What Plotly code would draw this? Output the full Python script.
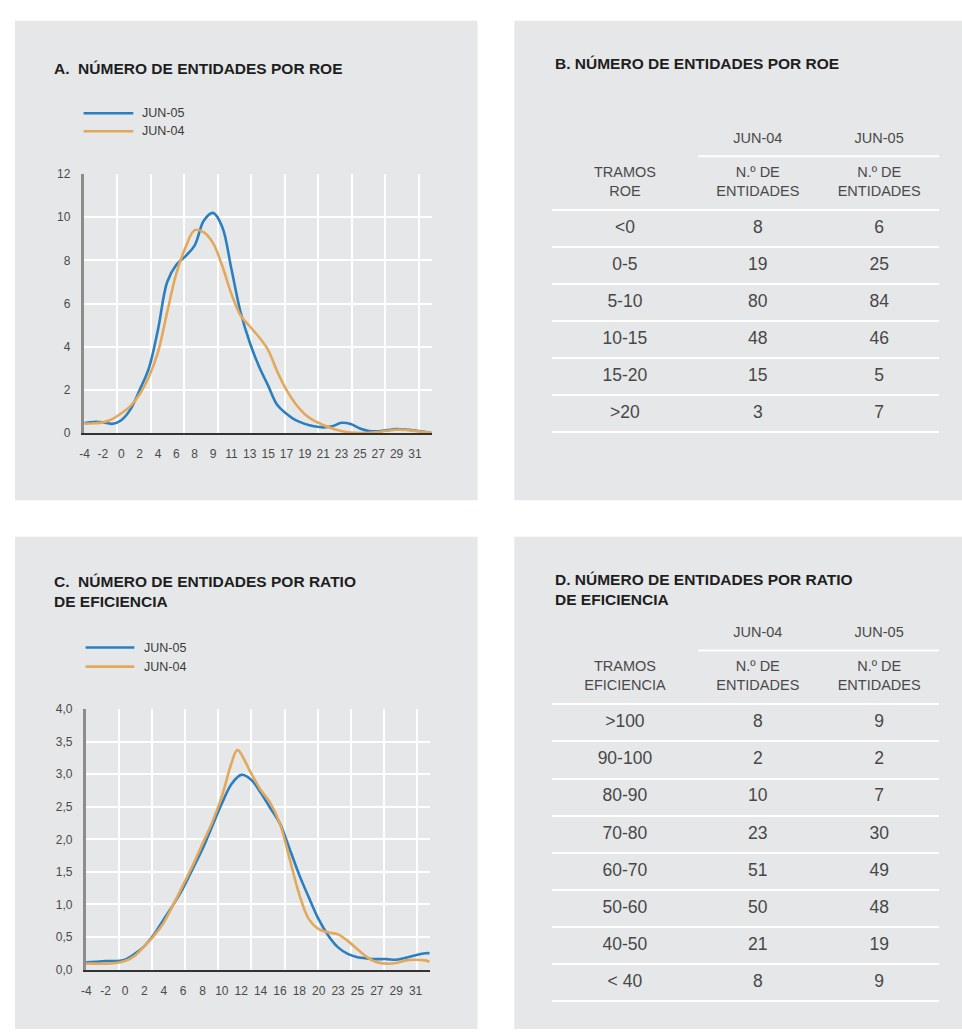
import plotly.graph_objects as go

W, H = 962, 1036


def px(x):
    return x / W


def py(y):
    return 1 - y / H


# ---------------- DATA ----------------
SERIES = ["JUN-05", "JUN-04"]
COLORS = {"JUN-05": "#2a7fc1", "JUN-04": "#e2a85c"}

# Chart A: number of entities by ROE (density-like curves)
ROE_TICKS = ["-4", "-2", "0", "2", "4", "6", "8", "9", "11", "13", "15",
             "17", "19", "21", "23", "25", "27", "29", "31"]
ROE_X = [0, 0.5, 1, 1.5, 2, 2.5, 3, 3.5, 4, 4.5, 5, 5.5, 6, 6.5, 7, 7.5, 8,
         8.5, 9, 9.5, 10, 10.5, 11, 11.5, 12, 12.5, 13, 13.5, 14, 14.5, 15,
         15.5, 16, 16.5, 17, 17.5, 18, 18.5, 18.9]
ROE_JUN05 = [0.47, 0.52, 0.50, 0.43, 0.60, 1.10, 2.00, 3.00, 4.80, 7.00,
             7.80, 8.20, 8.70, 9.85, 10.20, 9.55, 7.60, 5.60, 4.20, 3.10,
             2.20, 1.30, 0.90, 0.60, 0.43, 0.32, 0.27, 0.32, 0.48, 0.42,
             0.22, 0.10, 0.09, 0.14, 0.19, 0.17, 0.12, 0.06, 0.01]
ROE_JUN04 = [0.44, 0.46, 0.50, 0.65, 0.92, 1.25, 1.80, 2.60, 3.75, 5.60,
             7.40, 8.60, 9.40, 9.30, 8.80, 7.75, 6.45, 5.45, 4.95, 4.45,
             3.85, 2.85, 2.00, 1.35, 0.88, 0.58, 0.38, 0.22, 0.10, 0.03,
             0.01, 0.02, 0.05, 0.11, 0.16, 0.15, 0.10, 0.05, 0.02]
ROE_Y_TICKS = [0, 2, 4, 6, 8, 10, 12]

# Chart C: number of entities by efficiency ratio
EF_TICKS = ["-4", "-2", "0", "2", "4", "6", "8", "10", "12", "14", "16",
            "18", "20", "23", "25", "27", "29", "31"]
EF_X_JUN05 = [0, 0.5, 1, 1.5, 2, 2.5, 3, 3.5, 4, 4.5, 5, 5.5, 6, 6.5, 7,
              7.5, 8, 8.5, 9, 9.5, 10, 10.5, 11, 11.5, 12, 12.5, 13, 13.5,
              14, 14.5, 15, 15.5, 16, 16.5, 17, 17.5, 17.73]
EF_JUN05 = [0.11, 0.12, 0.13, 0.13, 0.15, 0.24, 0.36, 0.54, 0.77, 1.00,
            1.25, 1.55, 1.85, 2.20, 2.55, 2.85, 2.99, 2.92, 2.72, 2.48,
            2.24, 1.85, 1.45, 1.10, 0.77, 0.52, 0.34, 0.24, 0.19, 0.17,
            0.16, 0.16, 0.15, 0.18, 0.22, 0.25, 0.25]
EF_X_JUN04 = [0, 0.5, 1, 1.5, 2, 2.5, 3, 3.5, 4, 4.5, 5, 5.5, 6, 6.5, 7,
              7.5, 7.8, 8.5, 9, 9.5, 10, 10.5, 11, 11.5, 12, 12.5, 13, 13.5,
              14, 14.5, 15, 15.5, 16, 16.5, 17, 17.5, 17.73]
EF_JUN04 = [0.09, 0.09, 0.09, 0.10, 0.13, 0.21, 0.36, 0.52, 0.72, 1.00,
            1.30, 1.60, 1.93, 2.26, 2.66, 3.17, 3.37, 3.02, 2.76, 2.56,
            2.24, 1.70, 1.15, 0.77, 0.62, 0.57, 0.54, 0.44, 0.31, 0.19,
            0.11, 0.09, 0.10, 0.14, 0.15, 0.14, 0.12]
EF_Y_TICKS = [0, 0.5, 1, 1.5, 2, 2.5, 3, 3.5, 4]

# Table B
ROE_TRAMOS = ["<0", "0-5", "5-10", "10-15", "15-20", ">20"]
ROE_N_JUN04 = [8, 19, 80, 48, 15, 3]
ROE_N_JUN05 = [6, 25, 84, 46, 5, 7]

# Table D
EF_TRAMOS = [">100", "90-100", "80-90", "70-80", "60-70", "50-60", "40-50", "< 40"]
EF_N_JUN04 = [8, 2, 10, 23, 51, 50, 21, 8]
EF_N_JUN05 = [9, 2, 7, 30, 49, 48, 19, 9]

TABLE_COLS = ["JUN-04", "JUN-05"]

# ---------------- STYLE ----------------
FONT = "Liberation Sans, Arial, Helvetica, sans-serif"
PANEL = "#e6e7e9"
TXT = "#474747"
TITLE = "#1e1e1e"

fig = go.Figure()


def esc(s):
    return s.replace("<", "&lt;").replace(">", "&gt;")


# ---- line charts ----
for name, ys in (("JUN-05", ROE_JUN05), ("JUN-04", ROE_JUN04)):
    fig.add_trace(go.Scatter(x=ROE_X, y=ys, mode="lines", name=name,
                             line=dict(color=COLORS[name], width=2.6, shape="spline", smoothing=1),
                             xaxis="x", yaxis="y", showlegend=False, hoverinfo="skip"))
fig.add_trace(go.Scatter(x=[], y=[], xaxis="x2", yaxis="y", showlegend=False, hoverinfo="skip"))

for name, xs, ys in (("JUN-05", EF_X_JUN05, EF_JUN05), ("JUN-04", EF_X_JUN04, EF_JUN04)):
    fig.add_trace(go.Scatter(x=xs, y=ys, mode="lines", name=name,
                             line=dict(color=COLORS[name], width=2.6, shape="spline", smoothing=1),
                             xaxis="x3", yaxis="y2", showlegend=False, hoverinfo="skip"))
fig.add_trace(go.Scatter(x=[], y=[], xaxis="x4", yaxis="y2", showlegend=False, hoverinfo="skip"))

# ---- tables ----
COLX = [0.188, 0.5315, 0.845]
HDR_Y, SUB_Y, HLINE_Y = -2.4, -1.23, -1.95


def add_table(tramos, v04, v05, sublabel, xa, ya):
    n = len(tramos)
    rows = list(range(n))
    tf_hdr = dict(family=FONT, size=14.5, color="#4a4a4a")
    tf_val = dict(family=FONT, size=17.5, color=TXT)
    fig.add_trace(go.Scatter(x=COLX[1:], y=[HDR_Y] * 2, text=TABLE_COLS, mode="text",
                             textposition="middle center", textfont=tf_hdr,
                             xaxis=xa, yaxis=ya, showlegend=False, hoverinfo="skip"))
    fig.add_trace(go.Scatter(x=COLX, y=[SUB_Y] * 3,
                             text=["TRAMOS<br>" + sublabel, "N.º DE<br>ENTIDADES", "N.º DE<br>ENTIDADES"],
                             mode="text", textposition="middle center", textfont=tf_hdr,
                             xaxis=xa, yaxis=ya, showlegend=False, hoverinfo="skip"))
    fig.add_trace(go.Scatter(x=[COLX[0]] * n, y=rows, text=[esc(t) for t in tramos], mode="text",
                             textposition="middle center", textfont=tf_val,
                             xaxis=xa, yaxis=ya, showlegend=False, hoverinfo="skip"))
    fig.add_trace(go.Scatter(x=[COLX[1]] * n, y=rows, text=[str(v) for v in v04], mode="text",
                             textposition="middle center", textfont=tf_val,
                             xaxis=xa, yaxis=ya, showlegend=False, hoverinfo="skip"))
    fig.add_trace(go.Scatter(x=[COLX[2]] * n, y=rows, text=[str(v) for v in v05], mode="text",
                             textposition="middle center", textfont=tf_val,
                             xaxis=xa, yaxis=ya, showlegend=False, hoverinfo="skip"))


add_table(ROE_TRAMOS, ROE_N_JUN04, ROE_N_JUN05, "ROE", "x5", "y3")
add_table(EF_TRAMOS, EF_N_JUN04, EF_N_JUN05, "EFICIENCIA", "x6", "y4")

# ---------------- LAYOUT ----------------
tickfont = dict(family=FONT, size=12, color="#4a4a4a")


def data_xaxis(ticks, rng, dom):
    return dict(domain=dom, range=rng, tickmode="array", tickvals=list(range(len(ticks))),
                ticktext=ticks, showgrid=False, zeroline=False, showline=True,
                linecolor="#333333", linewidth=1.5, ticks="outside", ticklen=9,
                tickcolor="rgba(0,0,0,0)", tickfont=tickfont, fixedrange=True)


def grid_xaxis(over, anchor, rng):
    return dict(overlaying=over, anchor=anchor, range=rng, tickmode="linear", tick0=0, dtick=1,
                showgrid=True, gridcolor="white", gridwidth=2, showticklabels=False,
                ticks="", zeroline=False, showline=False, fixedrange=True)


def data_yaxis(dom, rng, vals, fmt):
    return dict(domain=dom, range=rng, tickmode="array", tickvals=vals, tickformat=fmt,
                showgrid=True, gridcolor="white", gridwidth=2, zeroline=False,
                showline=True, linecolor="#8c8c8c", linewidth=2.5, ticks="outside",
                ticklen=8, tickcolor="rgba(0,0,0,0)", tickfont=tickfont, fixedrange=True)


def table_yaxis(dom, n, rng):
    return dict(domain=dom, range=rng, tickmode="array",
                tickvals=[k - 0.5 for k in range(n + 1)], showgrid=True, gridcolor="white",
                gridwidth=2, showticklabels=False, ticks="", zeroline=False, showline=False,
                fixedrange=True)


def table_xaxis(dom, anchor):
    return dict(domain=dom, range=[0, 1], visible=False, anchor=anchor, fixedrange=True)


# Table B rows: first row centre 224.3 px, pitch 37.5 px ; Table D: 725.7 px, 37.6 px
tB_top, tB_bot = 224.3 - 3 * 37.5, 224.3 + 6.2 * 37.5
tD_top, tD_bot = 725.7 - 3 * 37.6, 725.7 + 8.2 * 37.6

layout = dict(
    width=W, height=H, margin=dict(l=0, r=0, t=0, b=0),
    paper_bgcolor="white", plot_bgcolor="rgba(0,0,0,0)",
    separators=",.", font=dict(family=FONT, color=TXT),
    xaxis=data_xaxis(ROE_TICKS, [-1 / 18.45, 350 / 18.45 - 1 / 18.45], [px(79), px(429)]) | dict(anchor="y"),
    xaxis2=grid_xaxis("x", "y", [0, 350 / 33.7]),
    yaxis=data_yaxis([py(432), py(169.3)], [0, 12], ROE_Y_TICKS, "d") | dict(anchor="x"),
    xaxis3=data_xaxis(EF_TICKS, [-0.7 / 19.47, 345.3 / 19.47], [px(81), px(427)]) | dict(anchor="y2"),
    xaxis4=grid_xaxis("x3", "y2", [0, 346 / 33.33]),
    yaxis2=data_yaxis([py(975.7), py(711.7)], [0, 4], EF_Y_TICKS, ".1f") | dict(anchor="x3"),
    xaxis5=table_xaxis([px(550), px(939)], "y3"),
    yaxis3=table_yaxis([py(tB_bot), py(tB_top)], len(ROE_TRAMOS), [6.2, -3]) | dict(anchor="x5"),
    xaxis6=table_xaxis([px(550), px(939)], "y4"),
    yaxis4=table_yaxis([py(tD_bot), py(tD_top)], len(EF_TRAMOS), [8.2, -3]) | dict(anchor="x6"),
)

shapes = []
for (x0, y0, x1, y1) in ((10, 14, 475, 500), (512, 14, 962, 500),
                         (10, 537, 475, 1036), (512, 537, 962, 1036)):
    shapes.append(dict(type="rect", xref="paper", yref="paper", x0=px(x0), x1=px(x1),
                       y0=py(y1), y1=py(y0), fillcolor=PANEL, line=dict(width=0), layer="below"))

# header rules of the tables (under JUN-04 / JUN-05)
for xa, ya in (("x5", "y3"), ("x6", "y4")):
    shapes.append(dict(type="line", xref=xa + " domain", yref=ya, x0=(697 - 550) / 389, x1=1,
                       y0=HLINE_Y, y1=HLINE_Y, line=dict(color="white", width=2)))

annotations = []
# legends (manual, 50px line keys)
for (lx0, lx1, tx, ys) in ((79, 129, 136, (107.7, 126.0)), (81, 130, 137.7, (649.3, 668.7))):
    for name, yy in zip(SERIES, ys):
        shapes.append(dict(type="line", xref="paper", yref="paper", x0=px(lx0), x1=px(lx1),
                           y0=py(yy), y1=py(yy), line=dict(color=COLORS[name], width=2.6)))
        annotations.append(dict(xref="paper", yref="paper", x=px(tx), y=py(yy), text=name,
                                showarrow=False, xanchor="left", yanchor="middle",
                                font=dict(family=FONT, size=12.5, color="#3a3a3a")))

# titles
tfont = dict(family=FONT, size=15.5, color=TITLE)
for (tx, ty, text) in ((47.5, 62, "A.\u00a0 NÚMERO DE ENTIDADES POR ROE"),
                       (551, 57, "B. NÚMERO DE ENTIDADES POR ROE"),
                       (47.5, 593, "C.\u00a0 NÚMERO DE ENTIDADES POR RATIO<br>DE EFICIENCIA"),
                       (551, 590, "D. NÚMERO DE ENTIDADES POR RATIO<br>DE EFICIENCIA")):
    annotations.append(dict(xref="paper", yref="paper", x=px(tx), y=py(ty),
                            text="<b>" + text.replace("<br>", "</b><br><b>") + "</b>",
                            showarrow=False, xanchor="left", yanchor="middle", align="left",
                            font=tfont))

layout["shapes"] = shapes
layout["annotations"] = annotations
fig.update_layout(**layout)

fig.write_html("out.html",
               config={"displayModeBar": False, "staticPlot": False},
               post_script="document.body.style.margin='0';document.body.style.padding='0';"
                           "document.body.style.overflow='hidden';")
